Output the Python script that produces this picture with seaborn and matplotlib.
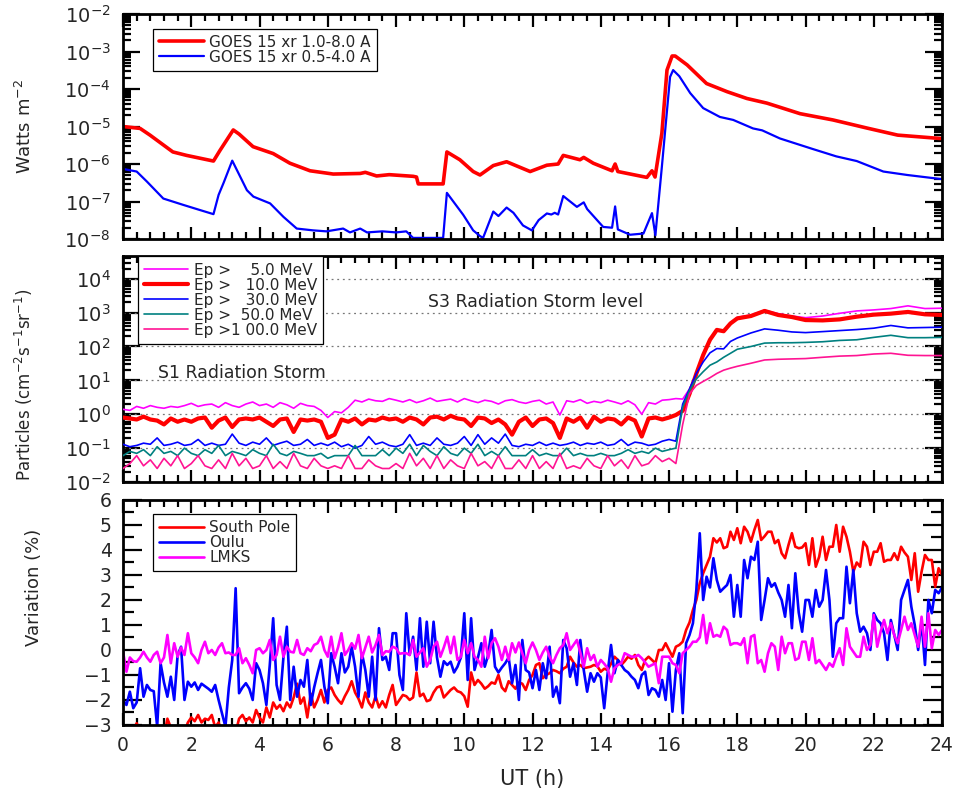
import numpy as np
import pandas as pd
import matplotlib
matplotlib.use("Agg")
import matplotlib.pyplot as plt
import matplotlib.ticker as mticker
import seaborn as sns

# ---------------- data ----------------
# GOES-15 X-ray flux (W m^-2)
goes_long_t = [0.0, 0.5, 0.79, 1.46, 1.86, 2.65, 2.84, 3.23, 3.4, 3.81, 4.4, 4.89, 5.48, 6.16,
               6.95, 7.1, 7.43, 7.8, 8.5, 8.6, 8.65, 9.38, 9.49, 9.87, 10.26, 10.46, 10.85, 11.24,
               11.93, 12.42, 12.75, 12.9, 13.39, 13.5, 13.78, 14.33, 14.42, 14.5, 15.35, 15.5,
               15.59, 15.79, 15.94, 16.09, 16.18, 16.53, 17.1, 17.7, 18.28, 18.87, 19.84, 20.8,
               21.8, 22.7, 23.94, 24.0]
goes_long = [1.0e-5, 8.9e-6, 5.9e-6, 2.1e-6, 1.7e-6, 1.2e-6, 2.3e-6, 8.1e-6, 6.3e-6, 2.9e-6,
             1.9e-6, 1.05e-6, 6.6e-7, 5.4e-7, 5.6e-7, 6.0e-7, 4.8e-7, 5.2e-7, 4.7e-7, 4.5e-7,
             2.95e-7, 2.95e-7, 2.1e-6, 1.3e-6, 6.3e-7, 5.1e-7, 9.1e-7, 1.15e-6, 6.3e-7, 9.3e-7,
             1.0e-6, 1.7e-6, 1.3e-6, 1.5e-6, 1.05e-6, 6.6e-7, 1.0e-6, 6.3e-7, 4.4e-7, 6.6e-7,
             4.5e-7, 6.6e-6, 3.2e-4, 7.6e-4, 7.6e-4, 4.4e-4, 1.4e-4, 8.5e-5, 5.6e-5, 4.2e-5,
             2.2e-5, 1.5e-5, 9.1e-6, 5.9e-6, 4.8e-6, 4.8e-6]
goes_short_t = [0.0, 0.4, 0.7, 1.18, 1.77, 2.26, 2.65, 2.8, 2.95, 3.2, 3.63, 3.82, 4.31, 4.7,
                5.09, 5.57, 5.96, 6.45, 6.65, 6.95, 7.15, 7.6, 8.0, 8.3, 8.5, 9.38, 9.49, 9.97,
                10.26, 10.46, 10.55, 10.85, 11.0, 11.24, 11.44, 11.72, 11.98, 12.18, 12.42,
                12.55, 12.65, 12.75, 12.9, 13.3, 13.5, 13.6, 14.07, 14.33, 14.42, 14.5, 14.86,
                15.25, 15.5, 15.6, 15.79, 16.03, 16.12, 16.3, 16.62, 17.0, 17.49, 17.88, 18.46,
                18.73, 19.25, 20.22, 20.9, 21.5, 22.28, 22.98, 23.94, 24.0]
goes_short = [7.4e-7, 6.3e-7, 3.4e-7, 1.2e-7, 8.1e-8, 5.9e-8, 4.6e-8, 1.5e-7, 3.2e-7, 1.23e-6,
              2.0e-7, 1.35e-7, 8.9e-8, 3.9e-8, 1.9e-8, 1.7e-8, 1.6e-8, 1.9e-8, 1.5e-8, 1.9e-8,
              1.5e-8, 1.6e-8, 1.5e-8, 1.6e-8, 1.07e-8, 1.07e-8, 1.7e-7, 4.4e-8, 1.7e-8, 1.2e-8,
              1.07e-8, 5.4e-8, 4.1e-8, 6.9e-8, 5.0e-8, 2.3e-8, 1.7e-8, 3.2e-8, 4.8e-8, 4.5e-8,
              5.0e-8, 4.5e-8, 1.4e-7, 7.2e-8, 9.5e-8, 6.3e-8, 2.1e-8, 2.0e-8, 7.4e-8, 1.8e-8,
              1.3e-8, 1.4e-8, 4.9e-8, 1.26e-8, 8.5e-7, 2.1e-4, 3.2e-4, 2.2e-4, 7.8e-5, 3.1e-5,
              1.8e-5, 1.5e-5, 8.9e-6, 7.9e-6, 4.8e-6, 2.5e-6, 1.6e-6, 1.2e-6, 6.3e-7, 5.1e-7,
              4.0e-7, 4.0e-7]

# GOES integral proton flux (cm^-2 s^-1 sr^-1)
proton_quiet_t = np.round(np.arange(0.0, 16.21, 0.2), 1)   # 0.0 ... 16.2
proton_storm_t = [16.4, 16.6, 16.8, 17.0, 17.2, 17.4, 17.6, 17.8, 18.0, 18.4, 18.8, 19.2,
                  19.6, 20.0, 20.5, 21.0, 21.5, 22.0, 22.5, 23.0, 23.5, 24.0]
p5_quiet = [1.4, 1.3, 1.7, 1.5, 1.8, 1.6, 1.5, 1.7, 1.6, 1.8,
            2.1, 1.7, 1.9, 2.0, 1.6, 2.2, 1.8, 1.6, 2.0, 2.3,
            1.8, 2.0, 1.6, 2.2, 1.9, 1.5, 2.1, 1.8, 1.7, 1.3,
            0.8, 1.2, 1.1, 1.6, 2.6, 2.3, 2.8, 2.5, 2.4, 2.9,
            2.6, 2.3, 2.7, 2.2, 2.5, 3.0, 2.4, 2.6, 2.8, 2.3,
            2.9, 2.5, 2.2, 2.6, 2.4, 2.0, 2.5, 2.7, 2.3, 2.1,
            2.4, 2.6, 2.0, 2.3, 0.95, 2.5, 2.3, 2.7, 2.1, 2.4,
            2.2, 2.6, 2.3, 2.0, 2.5, 1.9, 1.0, 2.2, 2.0, 2.6,
            2.7, 2.9]
p5_storm = [2.8, 5.6, 16, 56, 166, 316, 295, 501, 724, 851, 1175, 933,
            794, 708, 794, 955, 1122, 1202, 1318, 1585, 1318, 1349]
p10_quiet = [0.8, 0.75, 0.7, 0.85, 0.7, 0.65, 0.5, 0.75, 0.6, 0.7,
             0.6, 0.75, 0.8, 0.4, 0.65, 0.8, 0.42, 0.7, 0.75, 0.7,
             0.8, 0.6, 0.45, 0.7, 0.75, 0.3, 0.7, 0.65, 0.7, 0.6,
             0.2, 0.25, 0.7, 0.6, 0.75, 0.5, 0.7, 0.65, 0.8, 0.7,
             0.75, 0.6, 0.8, 0.7, 0.5, 0.8, 0.85, 0.7, 0.9, 0.75,
             0.7, 0.45, 0.8, 0.75, 0.55, 0.7, 0.5, 0.25, 0.6, 0.8,
             0.45, 0.7, 0.75, 0.55, 0.2, 0.75, 0.6, 0.8, 0.4, 0.85,
             0.6, 0.75, 0.7, 0.5, 0.8, 0.65, 0.22, 0.75, 0.8, 0.7,
             0.8, 0.95]
p10_storm = [1.26, 4.0, 15.8, 56, 158, 309, 282, 479, 676, 794, 1122, 851,
             741, 603, 589, 631, 759, 871, 933, 1047, 891, 851]
p30_quiet = [0.13, 0.11, 0.12, 0.14, 0.13, 0.2, 0.12, 0.13, 0.15, 0.12,
             0.13, 0.18, 0.12, 0.14, 0.12, 0.13, 0.26, 0.14, 0.12, 0.15,
             0.13, 0.2, 0.12, 0.14, 0.16, 0.12, 0.13, 0.18, 0.12, 0.14,
             0.12, 0.15, 0.11, 0.13, 0.1, 0.12, 0.22, 0.13, 0.15, 0.12,
             0.11, 0.13, 0.25, 0.12, 0.14, 0.12, 0.2, 0.13, 0.12, 0.14,
             0.22, 0.12, 0.25, 0.13, 0.2, 0.14, 0.26, 0.12, 0.11, 0.13,
             0.12, 0.15, 0.12, 0.14, 0.12, 0.13, 0.15, 0.12, 0.14, 0.13,
             0.15, 0.12, 0.13, 0.18, 0.12, 0.15, 0.14, 0.12, 0.13, 0.16,
             0.18, 0.16]
p30_storm = [2.0, 5.6, 16, 35, 65, 87, 85, 141, 178, 251, 331, 302,
             269, 257, 275, 295, 316, 347, 417, 355, 363, 372]
p50_quiet = [0.06, 0.08, 0.07, 0.09, 0.06, 0.11, 0.07, 0.08, 0.06, 0.1,
             0.07, 0.06, 0.09, 0.07, 0.12, 0.06, 0.08, 0.07, 0.06, 0.09,
             0.07, 0.06, 0.13, 0.07, 0.06, 0.08, 0.07, 0.06, 0.06, 0.07,
             0.05, 0.06, 0.06, 0.06, 0.12, 0.06, 0.06, 0.06, 0.09, 0.06,
             0.1, 0.07, 0.13, 0.06, 0.12, 0.08, 0.06, 0.11, 0.07, 0.06,
             0.1, 0.07, 0.13, 0.06, 0.08, 0.06, 0.11, 0.06, 0.06, 0.06,
             0.09, 0.06, 0.07, 0.06, 0.06, 0.1, 0.06, 0.07, 0.06, 0.06,
             0.07, 0.06, 0.06, 0.07, 0.09, 0.07, 0.08, 0.07, 0.1, 0.08,
             0.09, 0.1]
p50_storm = [1.6, 5.0, 11, 18, 28, 35, 48, 63, 83, 100, 126, 129,
             129, 132, 138, 151, 158, 186, 214, 182, 182, 186]
p100_quiet = [0.025, 0.035, 0.06, 0.03, 0.045, 0.025, 0.05, 0.03, 0.06, 0.025,
              0.035, 0.06, 0.03, 0.025, 0.045, 0.025, 0.07, 0.03, 0.05, 0.025,
              0.03, 0.06, 0.025, 0.04, 0.025, 0.07, 0.03, 0.025, 0.05, 0.03,
              0.025, 0.03, 0.025, 0.06, 0.025, 0.025, 0.045, 0.03, 0.025, 0.025,
              0.035, 0.025, 0.07, 0.03, 0.05, 0.025, 0.06, 0.025, 0.045, 0.03,
              0.025, 0.07, 0.03, 0.04, 0.025, 0.06, 0.025, 0.025, 0.045, 0.025,
              0.06, 0.025, 0.04, 0.025, 0.07, 0.025, 0.03, 0.025, 0.05, 0.03,
              0.025, 0.06, 0.03, 0.045, 0.025, 0.06, 0.03, 0.035, 0.06, 0.04,
              0.05, 0.035]
p100_storm = [0.5, 4.0, 7.1, 9.3, 12, 16, 20, 23, 26, 32, 40, 42,
              43, 44, 48, 52, 54, 60, 63, 55, 54, 54]
storm_levels = [1e-1, 1e0, 1e1, 1e2, 1e3, 1e4]

# Neutron monitor variation (%), 0.1 h samples from 0.0 to 24.0 h
nm_t = np.round(np.arange(0.0, 24.01, 0.1), 1)
south_pole = [
    -3.4, -3.3, -3.5, -3.2, -2.93, -3.3, -3.4, -3.2, -3.5, -3.3,
    -3.4, -3.2, -3.5, -2.75, -3.1, -3.3, -3.4, -3.2, -3.3, -2.9,
    -2.7, -2.85, -2.6, -2.9, -2.75, -2.8, -2.6, -3.1, -2.9, -3.3,
    -3.4, -3.2, -3.5, -3.3, -2.75, -2.6, -2.85, -2.7, -2.9, -2.4,
    -2.7, -2.9, -2.3, -2.7, -2.1, -2.35, -2.2, -2.45, -2.1, -2.3,
    -1.9, -1.35, -2.15, -1.9, -2.7, -1.75, -2.3, -2.0, -1.6, -2.1,
    -1.6, -1.5, -1.8, -2.0, -2.15, -1.85, -1.6, -1.25, -1.7, -1.95,
    -2.3, -1.7, -2.1, -2.3, -1.85, -2.3, -2.05, -2.3, -1.8, -1.4,
    -2.2, -2.0, -1.8, -1.85, -2.0, -1.9, -0.9, -1.85, -1.75, -2.05,
    -2.0, -1.7, -1.5, -1.45, -1.9, -1.75, -1.6, -1.5, -1.65, -1.7,
    -1.85, -2.27, -0.9, -1.4, -1.2, -1.35, -1.55, -1.45, -1.3, -1.35,
    -1.0, -1.5, -1.65, -1.25, -1.4, -1.55, -1.3, -1.35, -1.6, -1.2,
    -1.0, -0.6, -0.53, -1.13, -1.0, -0.93, -0.8, -0.85, -0.93, -0.75,
    -0.67, -0.27, -0.5, -0.67, -0.6, -0.73, -0.7, -0.67, -0.6, -0.65,
    -0.87, -0.75, -0.8, -0.55, -0.27, -0.4, -0.6, -0.45, -0.27, -0.35,
    -0.2, -0.6, -0.8, -0.4, -0.27, -0.4, -0.53, 0.0, 0.0, 0.27,
    0.0, -0.27, 0.13, 0.2, 0.33, 0.8, 1.1, 1.6, 2.0, 2.67,
    3.07, 3.4, 3.73, 4.47, 4.3, 4.47, 4.07, 4.13, 4.73, 4.4,
    4.87, 4.27, 4.93, 4.73, 4.33, 4.8, 5.2, 4.4, 4.55, 4.73,
    4.73, 4.27, 4.4, 3.87, 3.67, 4.2, 4.67, 4.13, 4.07, 4.1,
    4.27, 3.4, 4.47, 3.33, 3.73, 4.53, 3.6, 4.13, 4.13, 5.0,
    3.93, 4.93, 4.53, 3.93, 3.13, 3.5, 3.33, 4.33, 4.13, 3.4,
    3.93, 3.93, 4.27, 3.53, 3.6, 3.6, 3.87, 3.6, 4.13, 3.9,
    3.73, 2.8, 3.87, 2.33, 3.13, 3.8, 3.6, 3.6, 2.53, 3.27,
    3.0]
oulu = [
    -2.0, -2.2, -1.67, -2.33, -2.1, -0.73, -1.87, -1.4, -1.6, -1.65,
    -3.07, -0.53, -1.3, -1.87, -1.07, -2.0, -0.2, 0.13, -2.0, -1.27,
    -1.47, -1.3, -1.6, -1.35, -1.45, -1.55, -1.67, -1.4, -2.0, -2.53,
    -3.07, -1.5, -0.4, 2.47, -1.73, -1.5, -1.33, -1.55, -2.0, -0.53,
    -0.8, -1.33, -2.2, -0.6, 1.27, -1.4, -2.0, -0.3, 0.93, -2.0,
    -0.67, -1.87, -1.2, -1.47, -0.4, -2.2, -1.5, -0.93, -0.4, -1.47,
    -2.13, -0.13, -0.67, -1.33, -0.13, -0.9, -0.67, 0.13, -0.67, -1.87,
    -0.13, -0.8, -1.87, -0.27, -2.0, 0.87, -0.4, -0.27, -0.8, 0.67,
    0.67, -1.0, -1.6, 1.47, -0.2, 0.53, -0.8, 1.27, -0.67, 1.13,
    -0.53, 1.13, -0.3, -1.07, -0.45, -0.6, -0.47, -0.9, -0.67, -0.3,
    1.47, -1.2, 1.27, -0.8, -0.3, 0.27, -0.67, -0.2, 0.8, -0.67,
    -0.9, -0.7, -0.53, -0.3, -1.33, -0.6, -2.0, 0.4, -0.8, -0.9,
    -1.53, -0.8, -1.6, -0.53, -1.13, 0.13, -1.87, -1.47, -2.13, 0.4,
    0.07, -1.07, -0.53, -1.4, 0.4, -0.8, -1.67, -0.93, -1.27, -0.93,
    -1.1, -2.33, -0.93, 0.2, -0.93, -0.4, -0.6, -0.8, -0.9, -1.07,
    -1.2, -1.53, -1.0, -0.87, -1.8, -1.53, -1.6, -1.87, -1.2, -2.0,
    -0.53, -2.47, -0.8, -0.13, -2.53, 0.27, 0.6, 1.07, 2.4, 4.67,
    2.0, 2.93, 2.5, 3.67, 2.8, 2.33, 2.47, 2.6, 3.0, 1.33,
    2.6, 1.33, 3.6, 2.87, 3.73, 3.6, 4.33, 1.2, 2.0, 2.87,
    2.53, 2.67, 2.3, 2.0, 1.33, 2.6, 0.87, 3.07, 1.5, 0.73,
    2.0, 2.0, 1.33, 2.4, 1.73, 2.0, 3.2, 2.0, -0.27, 1.07,
    1.27, 1.27, 3.33, 1.87, 3.2, 1.47, 0.73, 0.93, 0.67, 0.0,
    1.47, 1.2, 1.07, 0.67, -0.4, 1.2, 0.6, 0.0, 2.0, 2.4,
    2.8, 1.73, 1.0, 0.0, 1.13, -0.6, 2.0, 1.47, 2.4, 2.27,
    2.5]
lmks = [
    -0.07, -0.87, -0.3, -0.45, -0.47, -0.3, -0.07, -0.3, -0.47, -0.2,
    -0.07, -0.53, -0.3, 0.6, -0.53, 0.27, -0.27, 0.1, -0.2, 0.67,
    -0.13, -0.3, -0.53, 0.0, 0.33, -0.13, 0.0, -0.2, 0.1, 0.27,
    -0.13, -0.1, -0.2, -0.2, 0.07, -0.53, -0.33, -0.6, -0.93, 0.0,
    0.07, -0.13, 0.0, 0.4, -0.4, -0.2, 0.53, -0.27, 0.13, -0.07,
    -0.1, 0.4, -0.13, -0.2, 0.07, -0.05, 0.2, 0.27, 0.53, 0.0,
    -0.27, 0.53, -0.33, 0.1, 0.67, -0.2, 0.0, 0.27, 0.05, 0.6,
    -0.33, 0.1, 0.53, -0.1, 0.2, 0.6, -0.2, -0.05, -0.07, 0.13,
    0.07, -0.15, -0.13, -0.13, -0.2, 0.4, -0.27, -0.1, 0.07, -0.67,
    -0.4, 0.13, 0.33, -0.27, 0.1, 0.53, -0.13, 0.53, -0.4, -0.27,
    0.4, -0.13, 0.27, -0.27, -0.4, -0.67, 0.53, -0.33, 0.27, 0.47,
    0.13, -0.4, 0.13, -0.4, 0.27, -0.1, 0.3, -0.13, -0.53, 0.0,
    0.3, 0.0, -0.4, -0.1, 0.13, -0.27, -0.53, -0.2, 0.07, 0.2,
    0.67, 0.0, 0.2, 0.4, -0.1, -0.67, 0.07, -0.4, -0.2, -0.67,
    -0.4, -0.55, -0.73, -1.27, -0.73, -0.6, -0.53, -0.13, -0.2, -0.27,
    -0.27, -0.2, -0.33, -0.5, -0.67, -0.6, -0.53, -1.33, -0.27, -0.27,
    -0.27, -0.53, -0.6, -0.93, -0.13, 0.0, 0.13, 0.33, 0.33, 0.5,
    1.4, 0.27, 1.07, 0.53, 0.6, 0.53, 0.93, 0.8, 0.2, 0.27,
    0.27, 0.2, 0.47, -0.53, 0.53, 0.6, -0.53, -0.4, -0.87, -0.13,
    0.27, 0.13, -0.8, 0.53, -0.13, 0.27, 0.27, -0.4, -0.33, 0.33,
    0.33, -0.4, 0.47, -0.53, -0.4, -0.6, -0.8, -0.53, -0.67, -0.27,
    0.07, -0.6, 0.87, 0.13, -0.07, -0.27, -0.27, 0.53, 0.0, 0.2,
    1.4, 0.13, 0.73, 1.2, 0.67, 1.07, 0.6, 0.27, 0.8, 1.33,
    0.8, 1.07, 0.6, 0.13, 1.33, 0.13, 1.47, 0.07, 0.8, 0.6,
    0.8]

# ---------------- style ----------------
sns.set_theme(style="white")
plt.rcParams['font.family'] = ['DejaVu Sans']
plt.rcParams['mathtext.fontset'] = 'dejavusans'
plt.rcParams['axes.edgecolor'] = 'black'
plt.rcParams['axes.linewidth'] = 2.0

fig = plt.figure(figsize=(9.56, 7.93), dpi=100)
L, W = 0.1287, 0.8567
ax1 = fig.add_axes([L, 0.6986, W, 0.2837])
ax2 = fig.add_axes([L, 0.3922, W, 0.2850])
ax3 = fig.add_axes([L, 0.0858, W, 0.2837])

LOGTICK = 14
LINTICK = 13.5
LABEL = 13
LEG = 11


def style_x(ax, show_labels):
    ax.set_xlim(0, 24)
    ax.xaxis.set_major_locator(mticker.MultipleLocator(2))
    ax.xaxis.set_minor_locator(mticker.MultipleLocator(0.4))
    ax.tick_params(axis='x', which='both', direction='in', top=True, bottom=True,
                   width=1.6, color='black', labelbottom=show_labels,
                   labelsize=LINTICK, pad=8)
    ax.tick_params(axis='x', which='major', length=9)
    ax.tick_params(axis='x', which='minor', length=5)
    for s in ax.spines.values():
        s.set_linewidth(2.0)
        s.set_color('black')


def style_log_y(ax):
    ax.yaxis.set_major_locator(mticker.LogLocator(base=10, numticks=30))
    ax.yaxis.set_minor_locator(mticker.LogLocator(base=10, subs=np.arange(2, 10), numticks=30))
    ax.yaxis.set_major_formatter(mticker.LogFormatterSciNotation())
    ax.yaxis.set_minor_formatter(mticker.NullFormatter())
    ax.tick_params(axis='y', which='both', direction='in', left=True, right=True,
                   width=1.6, color='black', labelsize=LOGTICK, pad=9)
    ax.tick_params(axis='y', which='major', length=12)
    ax.tick_params(axis='y', which='minor', length=6)


def make_legend(ax, handles, labels, anchor):
    leg = ax.legend(handles, labels, loc='upper left', bbox_to_anchor=anchor,
                    borderaxespad=0, fontsize=LEG, frameon=True, fancybox=False,
                    edgecolor='black', framealpha=1, handlelength=2.9,
                    handletextpad=0.35, labelspacing=0.0, borderpad=0.4)
    leg.get_frame().set_linewidth(0.9)
    return leg


# ---------------- panel 1: GOES X-ray ----------------
sns.lineplot(x=goes_long_t, y=goes_long, ax=ax1, color='#ff0000', linewidth=2.6, sort=False)
h_long = ax1.lines[-1]
sns.lineplot(x=goes_short_t, y=goes_short, ax=ax1, color='#0000ff', linewidth=1.6, sort=False)
h_short = ax1.lines[-1]
ax1.set_yscale('log')
ax1.set_ylim(1e-8, 1e-2)
style_x(ax1, False)
style_log_y(ax1)
ax1.set_ylabel('Watts m$^{-2}$', fontsize=LABEL)
ax1.yaxis.set_label_coords(-0.108, 0.5)
ax1.set_xlabel('')
make_legend(ax1, [h_long, h_short],
            ['GOES 15 xr 1.0-8.0 A', 'GOES 15 xr 0.5-4.0 A'], (0.037, 0.935))

# ---------------- panel 2: protons ----------------
for lvl in storm_levels:
    ax2.axhline(lvl, color='#777777', linestyle=(0, (1.5, 3)), linewidth=0.9, zorder=1)

proton_series = [
    ('Ep >    5.0 MeV', p5_quiet, p5_storm, '#ff00ff', 1.2),
    ('Ep >   10.0 MeV', p10_quiet, p10_storm, '#ff0000', 3.0),
    ('Ep >   30.0 MeV', p30_quiet, p30_storm, '#0000ff', 1.2),
    ('Ep >  50.0 MeV', p50_quiet, p50_storm, '#008080', 1.2),
    ('Ep >1 00.0 MeV', p100_quiet, p100_storm, '#ff1493', 1.2),
]
p_handles, p_labels = [], []
for lab, q, s, col, lw in proton_series:
    tt = list(proton_quiet_t) + list(proton_storm_t)
    vv = list(q) + list(s)
    sns.lineplot(x=tt, y=vv, ax=ax2, color=col, linewidth=lw, sort=False, zorder=3)
    p_handles.append(ax2.lines[-1])
    p_labels.append(lab)
ax2.set_yscale('log')
ax2.set_ylim(1e-2, 4.7e4)
style_x(ax2, False)
style_log_y(ax2)
ax2.set_ylabel('Particles (cm$^{-2}$s$^{-1}$sr$^{-1}$)', fontsize=12)
ax2.yaxis.set_label_coords(-0.108, 0.43)
ax2.set_xlabel('')
ax2.text(1.03, 10 ** 1.23, 'S1 Radiation Storm', fontsize=12.5, va='center', ha='left')
ax2.text(8.94, 10 ** 3.31, 'S3 Radiation Storm level', fontsize=12.5, va='center', ha='left')
make_legend(ax2, p_handles, p_labels, (0.018, 0.998))

# ---------------- panel 3: neutron monitors ----------------
nm_series = [('South Pole', south_pole, '#ff0000'),
             ('Oulu', oulu, '#0000ff'),
             ('LMKS', lmks, '#ff00ff')]
n_handles, n_labels = [], []
for lab, vals, col in nm_series:
    sns.lineplot(x=nm_t, y=vals, ax=ax3, color=col, linewidth=1.9, sort=False)
    n_handles.append(ax3.lines[-1])
    n_labels.append(lab)
ax3.set_ylim(-3, 6)
style_x(ax3, True)
ax3.yaxis.set_major_locator(mticker.MultipleLocator(1))
ax3.yaxis.set_minor_locator(mticker.MultipleLocator(0.5))
ax3.tick_params(axis='y', which='both', direction='in', left=True, right=True,
                width=1.6, color='black', labelsize=LINTICK, pad=8)
ax3.tick_params(axis='y', which='major', length=14)
ax3.tick_params(axis='y', which='minor', length=8)
ax3.set_ylabel('Variation (%)', fontsize=LABEL)
ax3.yaxis.set_label_coords(-0.098, 0.613)
ax3.set_xlabel('UT (h)', fontsize=15, labelpad=10)
make_legend(ax3, n_handles, n_labels, (0.037, 0.938))

fig.savefig('out.png', dpi=100)
